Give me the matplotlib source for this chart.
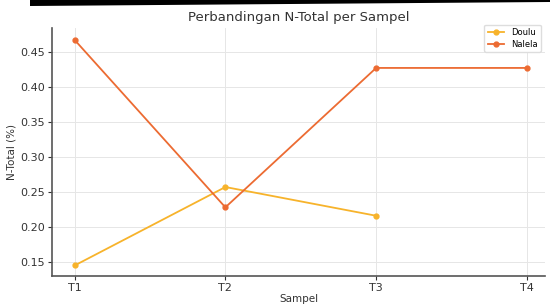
import numpy as np
import matplotlib
matplotlib.use("Agg")
import matplotlib.pyplot as plt
from matplotlib.patches import Polygon

# data
samples = ["T1", "T2", "T3", "T4"]
doulu = [0.145, 0.257, 0.216, np.nan]
nalela = [0.467, 0.228, 0.427, 0.427]

fig = plt.figure(figsize=(5.5, 3.07), dpi=100)
ax = fig.add_axes([52 / 550, 1 - 276 / 307, (545 - 52) / 550, (276 - 28) / 307])

x = np.arange(len(samples))
ax.plot(x, doulu, marker="o", markersize=3.5, linewidth=1.3, color="#F7B32B", label="Doulu")
ax.plot(x, nalela, marker="o", markersize=3.5, linewidth=1.3, color="#EC6B32", label="Nalela")

ax.set_xticks(x)
ax.set_xticklabels(samples)
ax.set_xlim(-0.15, 3.12)
ax.set_ylim(0.13, 0.484)
ax.set_yticks([0.15, 0.20, 0.25, 0.30, 0.35, 0.40, 0.45])
ax.set_yticklabels(["0.15", "0.20", "0.25", "0.30", "0.35", "0.40", "0.45"])

ax.grid(True, color="#e6e6e6", linewidth=0.7)
ax.set_axisbelow(True)
for s in ["top", "right"]:
    ax.spines[s].set_visible(False)
for s in ["left", "bottom"]:
    ax.spines[s].set_color("#555555")
    ax.spines[s].set_linewidth(1.2)
ax.tick_params(labelsize=8, colors="#333333", length=3, pad=2)

ax.set_title("Perbandingan N-Total per Sampel", fontsize=9.5, color="#333333", pad=5)
ax.set_xlabel("Sampel", fontsize=7.5, color="#333333", labelpad=1)
ax.set_ylabel("N-Total (%)", fontsize=7.5, color="#333333", labelpad=3)
ax.legend(loc="upper right", fontsize=6, handlelength=2, borderpad=0.4,
          labelspacing=0.3, bbox_to_anchor=(1.0, 1.03), framealpha=1, edgecolor="#dddddd")

# black band across the top of the screenshot
band = Polygon([(30 / 550, 1.0), (1.0, 1.0), (1.0, 1 - 2 / 307), (30 / 550, 1 - 6 / 307)],
               closed=True, transform=fig.transFigure, facecolor="black", edgecolor="none")
fig.patches.append(band)

fig.savefig("out.png", dpi=100)
